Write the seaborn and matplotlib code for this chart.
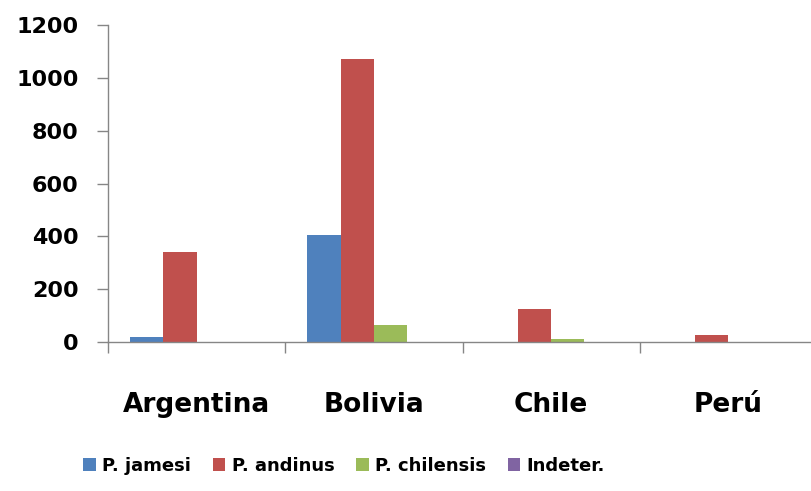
import matplotlib
matplotlib.use("Agg")
import matplotlib.pyplot as plt
import seaborn as sns
import pandas as pd
from matplotlib.ticker import FixedLocator

countries = ["Argentina", "Bolivia", "Chile", "Perú"]
species = ["P. jamesi", "P. andinus", "P. chilensis", "Indeter."]
p_jamesi = [18, 405, 0, 0]
p_andinus = [340, 1072, 125, 26]
p_chilensis = [0, 64, 10, 0]
indeter = [0, 0, 0, 0]
yticks = [0, 200, 400, 600, 800, 1000, 1200]
colors = ["#4F81BD", "#C0504D", "#9BBB59", "#8064A2"]

rows = []
for sp, vals in zip(species, [p_jamesi, p_andinus, p_chilensis, indeter]):
    for c, v in zip(countries, vals):
        rows.append({"country": c, "species": sp, "value": v})
df = pd.DataFrame(rows)

sns.set_theme(style="white")
plt.rcParams['font.family'] = ['DejaVu Sans']
plt.rcParams['text.color'] = 'black'
plt.rcParams['xtick.labelcolor'] = 'black'
plt.rcParams['ytick.labelcolor'] = 'black'

fig = plt.figure(figsize=(8.12, 4.91), dpi=100)
ax = fig.add_axes([108/812, 1 - 342/491, 1 - 108/812, (342 - 25)/491])

sns.barplot(data=df, x="country", y="value", hue="species", order=countries,
            hue_order=species, palette=colors, width=0.75, saturation=1,
            edgecolor="none", linewidth=0, ax=ax, legend=True)

ax.set_ylim(0, 1200)
ax.set_xlim(-0.5, 3.5 - 5/177)
ax.set_yticks(yticks)
ax.set_yticklabels([str(t) for t in yticks], fontsize=16, fontweight="bold", color="black")
ax.set_xticks(range(len(countries)))
ax.set_xticklabels(countries, fontsize=19, fontweight="bold", color="black")
ax.tick_params(axis="x", which="major", length=0, pad=36)
ax.xaxis.set_minor_locator(FixedLocator([-0.5, 0.5, 1.5, 2.5, 3.5]))
ax.tick_params(axis="x", which="minor", length=8, width=1, color="#868686", direction="out", bottom=True)
ax.tick_params(axis="y", length=8, width=1, color="#868686", direction="out", left=True, pad=13)
ax.set_xlabel("")
ax.set_ylabel("")
for s in ["top", "right"]:
    ax.spines[s].set_visible(False)
for s in ["left", "bottom"]:
    ax.spines[s].set_color("#868686")
    ax.spines[s].set_linewidth(1)

h, l = ax.get_legend_handles_labels()
ax.get_legend().remove()
leg = fig.legend(h, l, loc="center", bbox_to_anchor=(344/812, 1 - 466/491), ncol=4,
                 frameon=False, prop={"size": 13, "weight": "bold"},
                 handlelength=0.7, handleheight=0.7, handletextpad=0.35, columnspacing=1.2)
for t in leg.get_texts():
    t.set_color("black")

fig.savefig("out.png", dpi=100)
